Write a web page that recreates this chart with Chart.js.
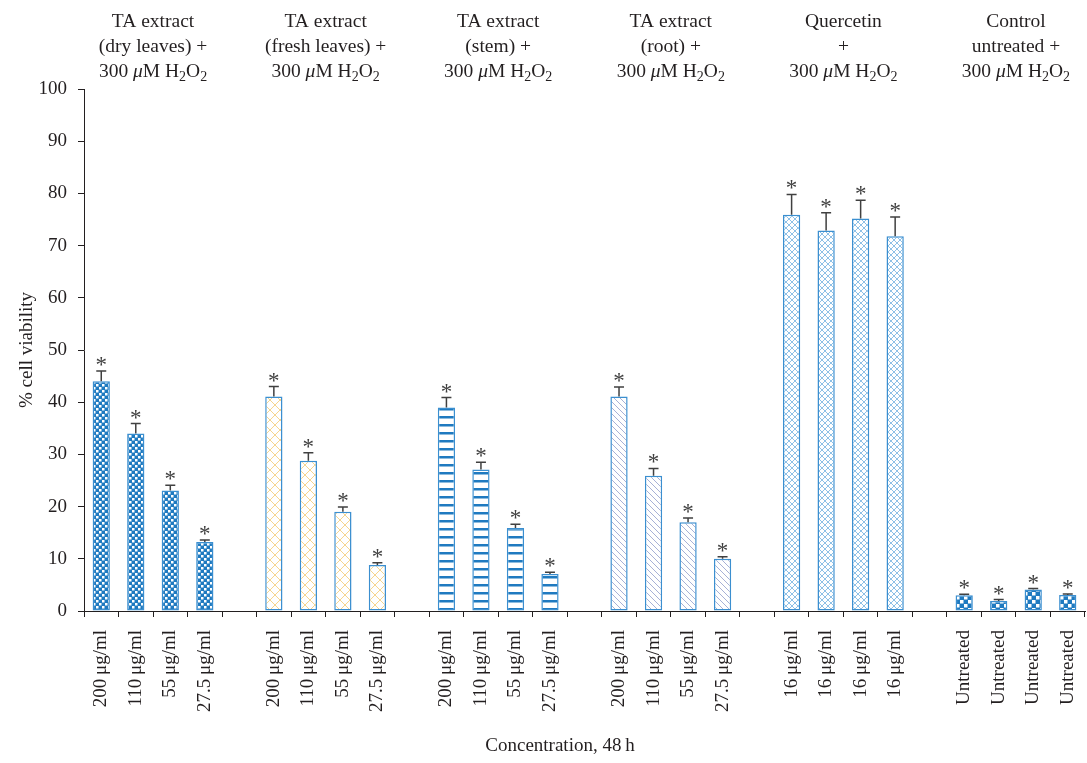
<!DOCTYPE html>
<html>
<head>
<meta charset="utf-8">
<script src="https://cdn.jsdelivr.net/npm/chart.js@4.4.1/dist/chart.umd.min.js"></script>
<style>
  html, body { margin: 0; padding: 0; background: #fff; }
  canvas { display: block; }
</style>
</head>
<body>
<canvas id="canvas" width="1087" height="763"></canvas>
<script>
// x categories, empty slots separate the treatment groups
var categories = [
    '200\u2009μg/ml', '110\u2009μg/ml', '55\u2009μg/ml', '27.5\u2009μg/ml', '',
    '200\u2009μg/ml', '110\u2009μg/ml', '55\u2009μg/ml', '27.5\u2009μg/ml', '',
    '200\u2009μg/ml', '110\u2009μg/ml', '55\u2009μg/ml', '27.5\u2009μg/ml', '',
    '200\u2009μg/ml', '110\u2009μg/ml', '55\u2009μg/ml', '27.5\u2009μg/ml', '',
    '16\u2009μg/ml', '16\u2009μg/ml', '16\u2009μg/ml', '16\u2009μg/ml', '',
    'Untreated', 'Untreated', 'Untreated', 'Untreated'
]

// % cell viability (mean) and upper error
var viability = [
    44, 34, 23.1, 13.2, null,
    41.1, 28.8, 19, 8.8, null,
    39, 27.1, 15.9, 7.1, null,
    41.1, 25.9, 17, 10, null,
    75.9, 72.9, 75.2, 71.8, null,
    3.0, 1.9, 4.1, 3.05
]
var errors = [
    2.0, 1.9, 1.0, 0.4, null,
    1.9, 1.5, 0.9, 0.45, null,
    1.9, 1.4, 0.7, 0.3, null,
    1.8, 1.4, 0.8, 0.4, null,
    3.9, 3.4, 3.5, 3.7, null,
    0.2, 0.3, 0.2, 0.2
]

var groupLabels = [
    ['TA extract', '(dry leaves) +'],
    ['TA extract', '(fresh leaves) +'],
    ['TA extract', '(stem) +'],
    ['TA extract', '(root) +'],
    ['Quercetin', '+'],
    ['Control', 'untreated +']
]
var yTicks = [0, 10, 20, 30, 40, 50, 60, 70, 80, 90, 100]

var FONT = "'Liberation Serif', 'DejaVu Serif', serif"
var INK = '#231f20'
var BLUE = '#1f7ac0'
var EDGE = '#3b8fd0'

function makeTile(w, h, draw) {
    var c = document.createElement('canvas')
    c.width = w
    c.height = h
    var g = c.getContext('2d')
    g.fillStyle = '#fff'
    g.fillRect(0, 0, w, h)
    draw(g, w, h)
    return document.getElementById('canvas').getContext('2d').createPattern(c, 'repeat')
}

function checker(size) {
    return makeTile(size * 2, size * 2, function(g) {
        g.fillStyle = BLUE
        g.fillRect(0, 0, size * 2, size * 2)
        g.fillStyle = '#fff'
        g.fillRect(0, 0, size - 0.5, size - 0.5)
        g.fillRect(size, size, size - 0.5, size - 0.5)
    })
}

function crossHatch(size, color, lw) {
    return makeTile(size, size, function(g, w, h) {
        g.strokeStyle = color
        g.lineWidth = lw
        g.beginPath()
        g.moveTo(0, 0); g.lineTo(w, h)
        g.moveTo(w, 0); g.lineTo(0, h)
        g.stroke()
    })
}

var patterns = [
    checker(3),
    crossHatch(10, '#f6d58e', 1),
    makeTile(4, 8, function(g) {
        g.fillStyle = BLUE
        g.fillRect(0, 0, 4, 2.5)
    }),
    makeTile(6, 6, function(g) {
        g.strokeStyle = '#a7b1d6'
        g.lineWidth = 1
        g.beginPath()
        g.moveTo(-1, -1); g.lineTo(7, 7)
        g.moveTo(-1, 5); g.lineTo(1, 7)
        g.moveTo(5, -1); g.lineTo(7, 1)
        g.stroke()
    }),
    crossHatch(6, '#8ec0e6', 1),
    checker(4)
]

function groupOf(i) { return Math.floor(i / 5) }

// "300 μM H2O2" line with italic μ and subscripts
function drawH2O2(ctx, cx, baseline, size) {
    var segs = [
        { t: '300 ', f: size + 'px ' + FONT, dy: 0 },
        { t: 'μ', f: 'italic ' + size + 'px ' + FONT, dy: 0 },
        { t: 'M H', f: size + 'px ' + FONT, dy: 0 },
        { t: '2', f: Math.round(size * 0.7) + 'px ' + FONT, dy: 4 },
        { t: 'O', f: size + 'px ' + FONT, dy: 0 },
        { t: '2', f: Math.round(size * 0.7) + 'px ' + FONT, dy: 4 }
    ]
    var total = 0
    segs.forEach(function(s) { ctx.font = s.f; s.w = ctx.measureText(s.t).width; total += s.w })
    var x = cx - total / 2
    ctx.textAlign = 'left'
    segs.forEach(function(s) {
        ctx.font = s.f
        ctx.fillText(s.t, x, baseline + s.dy)
        x += s.w
    })
}

var annotations = {
    id: 'annotations',
    afterDatasetsDraw: function(chart) {
        var ctx = chart.ctx
        var meta = chart.getDatasetMeta(0)
        var y = chart.scales.y
        var x = chart.scales.x
        var area = chart.chartArea
        ctx.save()
        // error bars + asterisks
        viability.forEach(function(v, i) {
            if (v == null) return
            var bx = meta.data[i].x
            var top = y.getPixelForValue(v)
            var et = y.getPixelForValue(v + errors[i])
            ctx.strokeStyle = '#404040'
            ctx.lineWidth = 1.5
            ctx.beginPath()
            ctx.moveTo(bx, top)
            ctx.lineTo(bx, et)
            ctx.moveTo(bx - 5, et)
            ctx.lineTo(bx + 5, et)
            ctx.stroke()
            ctx.fillStyle = '#404040'
            ctx.font = '23px ' + FONT
            ctx.textAlign = 'center'
            ctx.textBaseline = 'alphabetic'
            ctx.fillText('*', bx, et + 1)
        })
        // group headings
        ctx.fillStyle = INK
        ctx.textBaseline = 'alphabetic'
        groupLabels.forEach(function(lines, g) {
            var cx = (x.getPixelForValue(g * 5 + 1) + x.getPixelForValue(g * 5 + 2)) / 2
            ctx.font = '19.5px ' + FONT
            ctx.textAlign = 'center'
            ctx.fillText(lines[0], cx, 27)
            ctx.fillText(lines[1], cx, 52)
            drawH2O2(ctx, cx, 77, 19.5)
        })
        // axis titles
        ctx.font = '19px ' + FONT
        ctx.textAlign = 'center'
        ctx.fillText('Concentration, 48\u2009h', 560, 751)
        ctx.save()
        ctx.translate(32, (area.top + area.bottom) / 2)
        ctx.rotate(-Math.PI / 2)
        ctx.fillText('% cell viability', 0, 0)
        ctx.restore()
        ctx.restore()
    }
}

var ctx = document.getElementById('canvas').getContext('2d')
var chart = new Chart(ctx, {
    type: 'bar',
    data: {
        labels: categories,
        datasets: [{
            data: viability,
            backgroundColor: function(c) { return patterns[groupOf(c.dataIndex)] },
            borderColor: EDGE,
            borderWidth: 1.5,
            borderSkipped: false,
            categoryPercentage: 1,
            barPercentage: 0.5
        }]
    },
    plugins: [annotations],
    options: {
        responsive: false,
        animation: false,
        devicePixelRatio: 1,
        layout: { padding: { top: 89, right: 2, left: 0, bottom: 0 } },
        plugins: { legend: { display: false }, tooltip: { enabled: false } },
        scales: {
            x: {
                afterFit: function(s) {
                    s.height = 152
                    s.paddingLeft = 0
                    s.paddingRight = 0
                },
                grid: { drawOnChartArea: false, tickLength: 6, color: INK, offset: true },
                border: { color: INK, width: 1 },
                ticks: {
                    minRotation: 90, maxRotation: 90, autoSkip: false, padding: 13,
                    color: INK, font: { family: FONT, size: 19 }
                }
            },
            y: {
                min: 0, max: 100,
                afterFit: function(s) {
                    s.width = 84
                    s.paddingTop = 0
                    s.paddingBottom = 0
                },
                afterBuildTicks: function(s) { s.ticks = yTicks.map(function(v) { return { value: v } }) },
                grid: { drawOnChartArea: false, tickLength: 6, color: INK },
                border: { color: INK, width: 1 },
                ticks: { padding: 11, color: INK, font: { family: FONT, size: 19 } }
            }
        }
    }
})
</script>
</body>
</html>
